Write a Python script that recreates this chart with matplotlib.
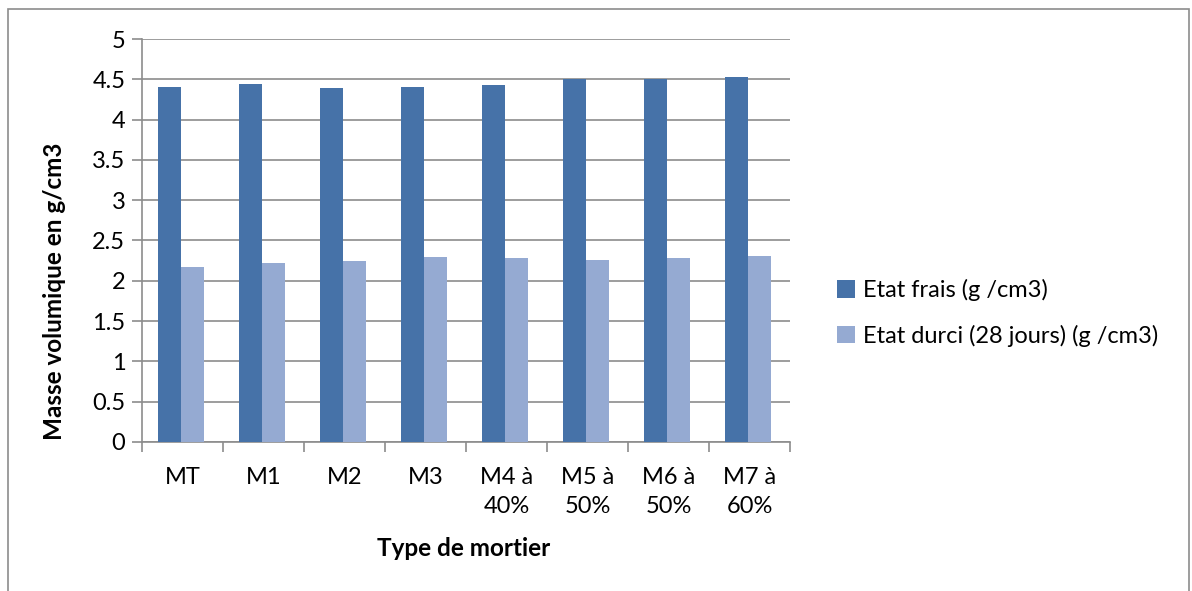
import matplotlib
matplotlib.use("Agg")
import matplotlib.pyplot as plt
import numpy as np
from matplotlib.patches import Rectangle

categories = ["MT", "M1", "M2", "M3", "M4 à\n40%", "M5 à\n50%", "M6 à\n50%", "M7 à\n60%"]
frais = [4.40, 4.44, 4.39, 4.40, 4.43, 4.50, 4.50, 4.53]
durci = [2.17, 2.22, 2.25, 2.29, 2.28, 2.26, 2.28, 2.31]
series_names = ["Etat frais (g /cm3)", "Etat durci (28 jours) (g /cm3)"]
colors = ["#4672A8", "#95AAD2"]
yticks = [0, 0.5, 1, 1.5, 2, 2.5, 3, 3.5, 4, 4.5, 5]
ytick_labels = ["0", "0.5", "1", "1.5", "2", "2.5", "3", "3.5", "4", "4.5", "5"]

plt.rcParams['font.family'] = ['Lato', 'DejaVu Sans']

W, H = 1192, 591
fig = plt.figure(figsize=(W / 100, H / 100), dpi=100)

# outer chart border
fig.patches.append(Rectangle((8 / W, -0.01), (1189 - 8) / W, (H - 9) / H + 0.01,
                             transform=fig.transFigure, fill=False,
                             edgecolor="#8c8c8c", linewidth=1.2))

left, right, top, bottom = 142, 790, 39, 442
ax = fig.add_axes([left / W, 1 - bottom / H, (right - left) / W, (bottom - top) / H])

x = np.arange(len(categories))
bw = 0.284
ax.bar(x - bw / 2 - 0.02, frais, bw, color=colors[0], label=series_names[0], zorder=3)
ax.bar(x + bw / 2 - 0.02, durci, bw, color=colors[1], label=series_names[1], zorder=3)

ax.set_xlim(-0.5, len(categories) - 0.5)
ax.set_ylim(0, 5)
ax.set_yticks(yticks)
ax.set_yticklabels(ytick_labels, fontsize=17)
ax.yaxis.grid(True, color="#8c8c8c", linewidth=1.2, zorder=0)
ax.set_axisbelow(True)

ax.set_xticks(x)
ax.set_xticklabels(categories, fontsize=17, linespacing=1.45, va="top")
ax.tick_params(axis="x", length=0, pad=18)
ax.set_xticks(np.arange(-0.5, len(categories), 1), minor=True)
ax.tick_params(axis="x", which="minor", length=7, color="#8c8c8c", width=1.2, direction="out")
ax.tick_params(axis="y", length=7, color="#8c8c8c", width=1.2, direction="out", pad=5)

for s in ["top", "right"]:
    ax.spines[s].set_visible(False)
for s in ["left", "bottom"]:
    ax.spines[s].set_color("#8c8c8c")
    ax.spines[s].set_linewidth(1.2)

fig.text(55 / W, 1 - 291 / H, "Masse volumique en g/cm3", fontsize=17.5, fontweight="bold",
         rotation=90, ha="center", va="center")
fig.text(464 / W, 1 - 549 / H, "Type de mortier", fontsize=17.5, fontweight="bold",
         ha="center", va="center")

leg = fig.legend(loc="upper left", bbox_to_anchor=(816 / W, 1 - 258 / H),
                 frameon=False, fontsize=17, handlelength=0.75, handleheight=0.75,
                 handletextpad=0.35, labelspacing=1.0)

fig.savefig("out.png", dpi=100)
